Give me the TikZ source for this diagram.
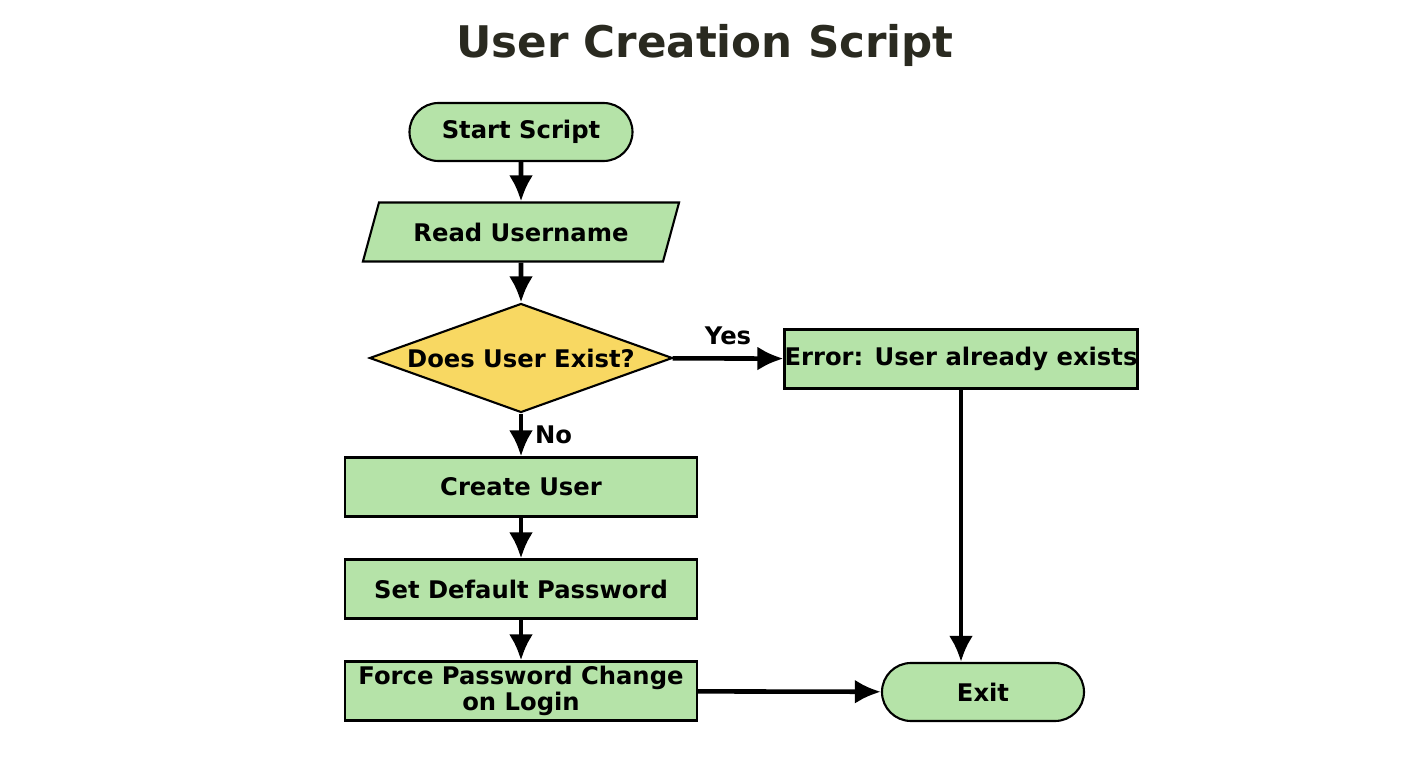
\documentclass[tikz,border=0pt]{standalone}
\usepackage{fontspec}
\setmainfont{DejaVu Sans}
\usetikzlibrary{shapes.geometric, shapes.misc}
\definecolor{boxgreen}{HTML}{B5E3A8}
\definecolor{decyellow}{HTML}{F8D862}
\definecolor{titlegray}{HTML}{2A2A20}
\tikzset{term/.style = {rounded rectangle, draw, line width=0.6pt, fill=boxgreen, minimum width=2.23cm, minimum height=0.58cm, inner sep=0pt, font=\bfseries\fontsize{6.9}{8}\selectfont},
         io/.style = {trapezium, trapezium left angle=57, trapezium right angle=123, trapezium stretches=true, draw, line width=0.6pt, fill=boxgreen, minimum width=3.18cm, minimum height=0.59cm, inner sep=0pt, font=\bfseries\fontsize{6.9}{8}\selectfont},
         dec/.style = {diamond, draw, line width=0.6pt, fill=decyellow, minimum width=3.03cm, minimum height=1.09cm, inner sep=0pt},
         proc/.style = {rectangle, draw, line width=0.6pt, fill=boxgreen, minimum width=3.52cm, minimum height=0.59cm, inner sep=0pt, align=center, font=\bfseries\fontsize{6.9}{7.2}\selectfont},
         arr/.style = {-{Latex[length=2.6mm, width=2.4mm]}, line width=1.3pt},
         lbl/.style = {font=\bfseries\fontsize{6.9}{8}\selectfont}}
\usetikzlibrary{arrows.meta}
\begin{document}
\begin{tikzpicture}
    \useasboundingbox (0,0) rectangle (14.08,-7.68);
    \node[font=\bfseries\fontsize{12.4}{15}\selectfont, text=titlegray] (title) at (7.05,-0.45) {User Creation Script};
    \node[term] (start) at (5.21,-1.32) {Start Script};
    \node[io] (read) at (5.21,-2.32) {Read Username};
    \node[dec] (exist) at (5.21,-3.58) {};
    \node[lbl] (existtxt) at (exist) {Does User Exist?};
    \node[proc, minimum width=3.47cm] (err) at (9.61,-3.59) {Error: User already exists};
    \node[proc] (create) at (5.21,-4.87) {Create User};
    \node[proc] (pass) at (5.21,-5.89) {Set Default Password};
    \node[proc] (force) at (5.21,-6.91) {Force Password Change\\on Login};
    \node[term, minimum width=2.02cm] (exit) at (9.83,-6.92) {Exit};
    \draw[arr] (start) -- (read);
    \draw[arr] (read) -- (exist);
    \draw[arr] (exist) -- node[lbl, above] {Yes} (err);
    \draw[arr] (exist) -- node[lbl, right] {No} (create);
    \draw[arr] (create) -- (pass);
    \draw[arr] (pass) -- (force);
    \draw[arr] (force) -- (exit);
    \draw[arr] (err.south) -- (err.south |- exit.north);
\end{tikzpicture}
\end{document}
